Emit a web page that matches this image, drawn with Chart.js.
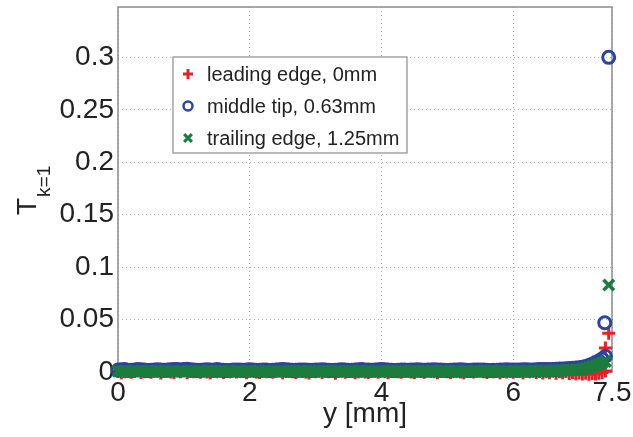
<!DOCTYPE html>
<html>
<head>
<meta charset="utf-8">
<script src="https://cdn.jsdelivr.net/npm/chart.js@4.4.1/dist/chart.umd.min.js"></script>
<style>
  html, body { margin: 0; padding: 0; background: #fff; }
</style>
</head>
<body>
<canvas id="chart" width="633" height="437"></canvas>
<script>
// positions along the edge, y [mm]
const yPos = [
  0.00, 0.05, 0.10, 0.15, 0.20, 0.25, 0.30, 0.35, 0.40, 0.45,
  0.50, 0.55, 0.60, 0.65, 0.70, 0.75, 0.80, 0.85, 0.90, 0.95,
  1.00, 1.05, 1.10, 1.15, 1.20, 1.25, 1.30, 1.35, 1.40, 1.45,
  1.50, 1.55, 1.60, 1.65, 1.70, 1.75, 1.80, 1.85, 1.90, 1.95,
  2.00, 2.05, 2.10, 2.15, 2.20, 2.25, 2.30, 2.35, 2.40, 2.45,
  2.50, 2.55, 2.60, 2.65, 2.70, 2.75, 2.80, 2.85, 2.90, 2.95,
  3.00, 3.05, 3.10, 3.15, 3.20, 3.25, 3.30, 3.35, 3.40, 3.45,
  3.50, 3.55, 3.60, 3.65, 3.70, 3.75, 3.80, 3.85, 3.90, 3.95,
  4.00, 4.05, 4.10, 4.15, 4.20, 4.25, 4.30, 4.35, 4.40, 4.45,
  4.50, 4.55, 4.60, 4.65, 4.70, 4.75, 4.80, 4.85, 4.90, 4.95,
  5.00, 5.05, 5.10, 5.15, 5.20, 5.25, 5.30, 5.35, 5.40, 5.45,
  5.50, 5.55, 5.60, 5.65, 5.70, 5.75, 5.80, 5.85, 5.90, 5.95,
  6.00, 6.05, 6.10, 6.15, 6.20, 6.25, 6.30, 6.35, 6.40, 6.45,
  6.50, 6.55, 6.60, 6.65, 6.70, 6.75, 6.80, 6.85, 6.90, 6.95,
  7.00, 7.05, 7.10, 7.15, 7.20, 7.25, 7.30, 7.35, 7.40
];

// T_{k=1}, leading edge 0mm
const leadingVals = [
  0.0004, -0.0006, 0.0002, 0.0009, -0.0003, 0.0006, 0.0011, -0.0005, 0.0003, 0.0008,
  -0.0002, 0.0006, 0.0010, -0.0009, 0.0004, 0.0007, 0.0001, -0.0004, 0.0009, 0.0003,
  0.0011, -0.0006, 0.0005, 0.0002, 0.0008, -0.0003, 0.0010, 0.0001, -0.0008, 0.0006,
  0.0003, 0.0009, -0.0004, 0.0007, 0.0002, 0.0011, -0.0001, 0.0005, 0.0008, -0.0006,
  0.0004, 0.0010, 0.0001, -0.0005, 0.0007, 0.0003, 0.0009, -0.0002, 0.0006, 0.0011,
  -0.0007, 0.0004, 0.0008, 0.0002, -0.0004, 0.0010, 0.0005, 0.0001, -0.0009, 0.0007,
  0.0003, 0.0009, -0.0005, 0.0006, 0.0002, 0.0008, -0.0011, 0.0004, 0.0007, -0.0003,
  0.0005, 0.0010, -0.0006, 0.0003, 0.0008, 0.0001, -0.0004, 0.0009, 0.0006, -0.0002,
  0.0007, 0.0002, -0.0008, 0.0005, 0.0010, 0.0003, -0.0003, 0.0006, 0.0009, 0.0001,
  -0.0005, 0.0008, 0.0004, -0.0002, 0.0011, 0.0006, 0.0002, -0.0007, 0.0005, 0.0009,
  0.0003, -0.0004, 0.0007, 0.0010, 0.0001, -0.0006, 0.0008, 0.0004, -0.0001, 0.0006,
  0.0009, 0.0002, -0.0005, 0.0007, 0.0003, 0.0010, -0.0008, 0.0005, 0.0001, 0.0006,
  -0.0003, 0.0008, 0.0004, -0.0007, 0.0006, 0.0002, 0.0009, -0.0004, 0.0005, -0.0010,
  0.0003, -0.0006, 0.0007, -0.0012, 0.0002, -0.0008, 0.0004, -0.0014, -0.0005, -0.0016,
  -0.0010, -0.0018, -0.0012, -0.0022, -0.0015, -0.0020, -0.0012, -0.0004, 0.0010
];
// middle tip 0.63mm
const middleVals = [
  0.0018, 0.0021, 0.0023, 0.0017, 0.0016, 0.0020, 0.0024, 0.0022, 0.0018, 0.0015,
  0.0017, 0.0020, 0.0022, 0.0019, 0.0016, 0.0018, 0.0021, 0.0025, 0.0023, 0.0019,
  0.0024, 0.0026, 0.0021, 0.0018, 0.0016, 0.0017, 0.0020, 0.0022, 0.0019, 0.0017,
  0.0023, 0.0020, 0.0016, 0.0014, 0.0015, 0.0018, 0.0020, 0.0019, 0.0017, 0.0019,
  0.0022, 0.0020, 0.0017, 0.0016, 0.0019, 0.0018, 0.0015, 0.0016, 0.0019, 0.0021,
  0.0023, 0.0021, 0.0018, 0.0017, 0.0016, 0.0018, 0.0020, 0.0019, 0.0017, 0.0016,
  0.0018, 0.0020, 0.0022, 0.0019, 0.0016, 0.0015, 0.0017, 0.0019, 0.0021, 0.0020,
  0.0017, 0.0016, 0.0018, 0.0021, 0.0023, 0.0020, 0.0018, 0.0017, 0.0019, 0.0021,
  0.0024, 0.0022, 0.0019, 0.0017, 0.0015, 0.0016, 0.0018, 0.0019, 0.0017, 0.0018,
  0.0020, 0.0021, 0.0018, 0.0016, 0.0018, 0.0020, 0.0022, 0.0020, 0.0018, 0.0017,
  0.0015, 0.0016, 0.0018, 0.0020, 0.0021, 0.0019, 0.0017, 0.0016, 0.0018, 0.0019,
  0.0020, 0.0018, 0.0017, 0.0015, 0.0016, 0.0017, 0.0019, 0.0020, 0.0021, 0.0019,
  0.0018, 0.0019, 0.0020, 0.0022, 0.0021, 0.0019, 0.0020, 0.0021, 0.0023, 0.0024,
  0.0023, 0.0024, 0.0025, 0.0027, 0.0028, 0.0029, 0.0031, 0.0033, 0.0035, 0.0037,
  0.0040, 0.0045, 0.0052, 0.0062, 0.0075, 0.0090, 0.0105, 0.0125, 0.0150
];
// trailing edge 1.25mm
const trailingVals = [
  0.0008, 0.0005, 0.0010, 0.0006, 0.0003, 0.0009, 0.0005, 0.0011, 0.0004, 0.0007,
  0.0010, 0.0005, 0.0008, 0.0006, 0.0012, 0.0004, 0.0007, 0.0009, 0.0005, 0.0010,
  0.0004, 0.0008, 0.0011, 0.0006, 0.0003, 0.0009, 0.0005, 0.0010, 0.0007, 0.0004,
  0.0008, 0.0012, 0.0006, 0.0003, 0.0009, 0.0005, 0.0011, 0.0007, 0.0004, 0.0010,
  0.0006, 0.0003, 0.0009, 0.0012, 0.0005, 0.0008, 0.0004, 0.0010, 0.0006, 0.0003,
  0.0009, 0.0007, 0.0011, 0.0004, 0.0008, 0.0005, 0.0010, 0.0006, 0.0009, 0.0004,
  0.0008, 0.0011, 0.0006, 0.0010, 0.0007, 0.0012, 0.0005, 0.0008, 0.0004, 0.0009,
  0.0006, 0.0010, 0.0003, 0.0008, 0.0011, 0.0005, 0.0009, 0.0006, 0.0004, 0.0010,
  0.0007, 0.0004, 0.0009, 0.0012, 0.0006, 0.0003, 0.0008, 0.0010, 0.0005, 0.0007,
  0.0011, 0.0006, 0.0004, 0.0009, 0.0007, 0.0010, 0.0005, 0.0008, 0.0012, 0.0006,
  0.0004, 0.0009, 0.0006, 0.0010, 0.0003, 0.0008, 0.0011, 0.0005, 0.0007, 0.0009,
  0.0006, 0.0010, 0.0004, 0.0008, 0.0011, 0.0006, 0.0009, 0.0005, 0.0010, 0.0007,
  0.0009, 0.0005, 0.0011, 0.0007, 0.0010, 0.0006, 0.0012, 0.0008, 0.0010, 0.0009,
  0.0012, 0.0010, 0.0013, 0.0011, 0.0014, 0.0015, 0.0016, 0.0018, 0.0019, 0.0021,
  0.0024, 0.0029, 0.0035, 0.0043, 0.0052, 0.0063, 0.0075, 0.0088, 0.0100
];

// the few points right at the tip
const leadingTailX = [7.40, 7.45];
const leadingTailY = [0.023, 0.037];
const middleTailX = [7.39, 7.45];
const middleTailY = [0.047, 0.300];
const trailingTailX = [7.45];
const trailingTailY = [0.083];

const xTicks = [0, 2, 4, 6, 7.5];
const yTicks = [0, 0.05, 0.1, 0.15, 0.2, 0.25, 0.3];

const FONT = "'Liberation Sans', Arial, Helvetica, sans-serif";
const AXIS_GRAY = '#8c8c8c';

function toPoints(xs, ys, tx, ty) {
    const pts = xs.map((x, i) => ({ x: x, y: ys[i] }));
    return pts.concat(tx.map((x, i) => ({ x: x, y: ty[i] })));
}

// box around the plot area (MATLAB "box on")
const plotBox = {
    id: 'plotBox',
    beforeDatasetsDraw(chart) {
        const { ctx, chartArea: a } = chart;
        ctx.save();
        ctx.strokeStyle = AXIS_GRAY;
        ctx.lineWidth = 1.5;
        ctx.strokeRect(a.left, a.top, a.right - a.left, a.bottom - a.top);
        ctx.restore();
    }
};

// legend drawn inside the axes
const boxLegend = {
    id: 'boxLegend',
    afterDatasetsDraw(chart) {
        const { ctx, chartArea: a } = chart;
        const left = a.left + 55, top = a.top + 50;
        ctx.save();
        ctx.fillStyle = '#fff';
        ctx.fillRect(left, top, 234, 96);
        ctx.strokeStyle = AXIS_GRAY;
        ctx.lineWidth = 1.2;
        ctx.strokeRect(left, top, 234, 96);
        chart.data.datasets.forEach((ds, i) => {
            const cy = top + 17 + i * 32;
            ctx.strokeStyle = ds.borderColor;
            ctx.fillStyle = 'rgba(0,0,0,0)';
            ctx.lineWidth = ds.legendWidth;
            Chart.helpers.drawPoint(ctx, {
                pointStyle: ds.pointStyle,
                radius: ds.legendRadius,
                borderWidth: ds.legendWidth,
                rotation: 0
            }, left + 15, cy);
            ctx.fillStyle = '#222';
            ctx.font = '20px ' + FONT;
            ctx.textBaseline = 'middle';
            ctx.textAlign = 'left';
            ctx.fillText(ds.label, left + 34, cy + 1);
        });
        ctx.restore();
    }
};

// y axis title with subscript: T_{k=1}
const yTitle = {
    id: 'yTitle',
    afterDraw(chart) {
        const ctx = chart.ctx;
        ctx.save();
        ctx.translate(36, 215);
        ctx.rotate(-Math.PI / 2);
        ctx.fillStyle = '#222';
        ctx.textBaseline = 'alphabetic';
        ctx.textAlign = 'left';
        ctx.font = '28px ' + FONT;
        ctx.fillText('T', 0, 0);
        const w = ctx.measureText('T').width;
        ctx.font = '19px ' + FONT;
        ctx.fillText('k=1', w + 1, 14);
        ctx.restore();
    }
};

function noPad(scale) {
    scale.paddingTop = 0;
    scale.paddingBottom = 0;
    scale.paddingLeft = 0;
    scale.paddingRight = 0;
}

new Chart(document.getElementById('chart'), {
    type: 'scatter',
    data: {
        datasets: [
            {
                label: 'leading edge, 0mm',
                data: toPoints(yPos, leadingVals, leadingTailX, leadingTailY),
                pointStyle: 'cross',
                borderColor: '#e3212b',
                backgroundColor: '#e3212b',
                pointRadius: 6.5,
                pointBorderWidth: 3,
                legendRadius: 5,
                legendWidth: 3,
                order: 2
            },
            {
                label: 'middle tip, 0.63mm',
                data: toPoints(yPos, middleVals, middleTailX, middleTailY),
                pointStyle: 'circle',
                borderColor: '#2b449e',
                backgroundColor: 'rgba(0,0,0,0)',
                pointRadius: 6,
                pointBorderWidth: 3,
                legendRadius: 4.5,
                legendWidth: 2.5,
                order: 1
            },
            {
                label: 'trailing edge, 1.25mm',
                data: toPoints(yPos, trailingVals, trailingTailX, trailingTailY),
                pointStyle: 'crossRot',
                borderColor: '#1c7c3e',
                backgroundColor: '#1c7c3e',
                pointRadius: 7.5,
                pointBorderWidth: 3.5,
                legendRadius: 5.5,
                legendWidth: 3,
                order: 0
            }
        ]
    },
    options: {
        responsive: false,
        animation: false,
        clip: false,
        layout: { autoPadding: false, padding: { left: 0, top: 7, right: 21, bottom: 0 } },
        plugins: {
            legend: { display: false },
            tooltip: { enabled: false }
        },
        scales: {
            x: {
                type: 'linear',
                min: 0,
                max: 7.5,
                afterBuildTicks: s => { s.ticks = xTicks.map(v => ({ value: v })); },
                afterFit: s => { s.height = 65; noPad(s); },
                grid: { color: '#b5b5b5', lineWidth: 1, drawTicks: false },
                border: { display: false, dash: [1, 3] },
                ticks: {
                    padding: 4,
                    color: '#222',
                    font: { family: FONT, size: 28 },
                    maxRotation: 0,
                    callback: v => String(v)
                },
                title: {
                    display: true,
                    text: 'y [mm]',
                    color: '#222',
                    font: { family: FONT, size: 28 },
                    padding: { top: 0, bottom: 6 }
                }
            },
            y: {
                type: 'linear',
                min: 0,
                max: 0.348,
                afterBuildTicks: s => { s.ticks = yTicks.map(v => ({ value: v })); },
                afterFit: s => { s.width = 118; noPad(s); },
                grid: { color: '#b5b5b5', lineWidth: 1, drawTicks: false },
                border: { display: false, dash: [1, 3] },
                ticks: {
                    padding: 4,
                    color: '#222',
                    font: { family: FONT, size: 28 },
                    callback: v => String(parseFloat(v.toFixed(2)))
                }
            }
        }
    },
    plugins: [plotBox, boxLegend, yTitle]
});
</script>
</body>
</html>
